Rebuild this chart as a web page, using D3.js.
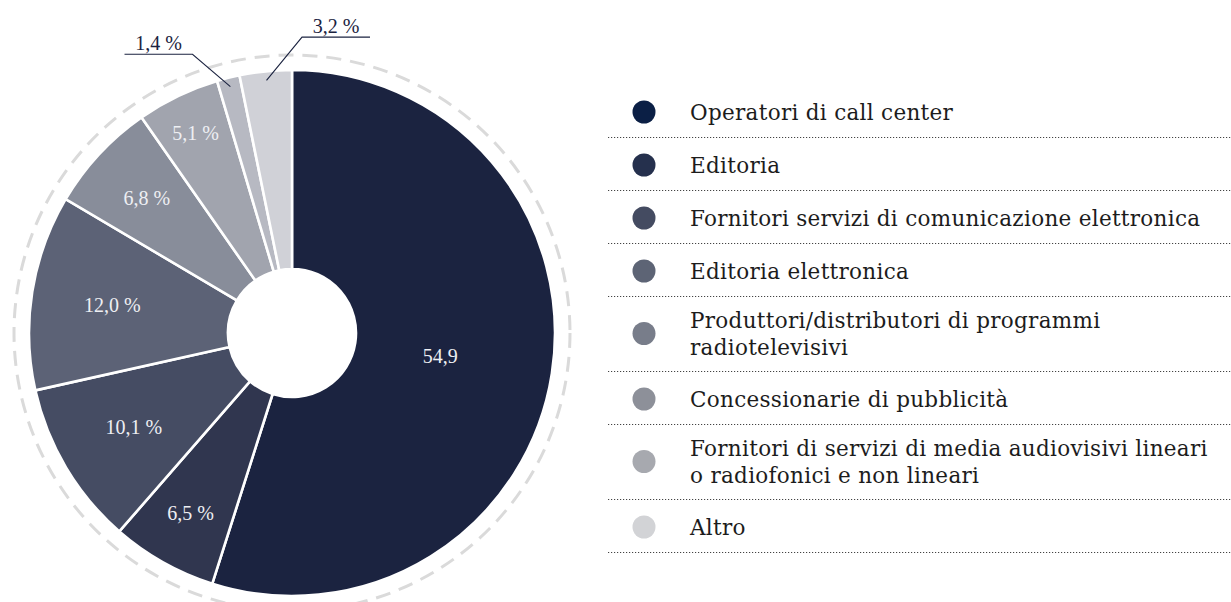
<!DOCTYPE html>
<html lang="it">
<head>
<meta charset="utf-8">
<script src="https://cdn.jsdelivr.net/npm/d3@7"></script>
<style>
  html, body { margin: 0; padding: 0; background: #ffffff; }
  svg { display: block; }
  text { font-family: "Liberation Serif", "Times New Roman", serif; }
  .legend text { font-family: "DejaVu Serif", serif; }
</style>
</head>
<body>
<svg id="chart" width="1231" height="602"></svg>
<script>
// Sector categories (legend lines are pre-split where the label wraps)
const categories = [
  ["Operatori di call center"],
  ["Editoria"],
  ["Fornitori servizi di comunicazione elettronica"],
  ["Editoria elettronica"],
  ["Produttori/distributori di programmi", "radiotelevisivi"],
  ["Concessionarie di pubblicità"],
  ["Fornitori di servizi di media audiovisivi lineari", "o radiofonici e non lineari"],
  ["Altro"]
];
// Share of each sector (%)
const shares = [54.9, 6.5, 10.1, 12.0, 6.8, 5.1, 1.4, 3.2];
// Labels printed on / next to the slices
const valueLabels = ["54,9", "6,5 %", "10,1 %", "12,0 %", "6,8 %", "5,1 %", "1,4 %", "3,2 %"];

// Palettes for slices and legend markers
const sliceColors = ["#1b2340", "#30364f", "#454c63", "#5c6276", "#888d9a", "#a1a4ae", "#b7b9c2", "#d0d1d7"];
const legendColors = ["#0b1f45", "#25304d", "#444b61", "#5d6475", "#787d8a", "#8d9099", "#a7a9af", "#d2d3d6"];

const svg = d3.select("#chart");

// ---- Donut ----
const cx = 292, cy = 333;
const outerR = 263, innerR = 64, ringR = 278;

const pie = d3.pie().sort(null).value(d => d)
  .startAngle(0).endAngle(2 * Math.PI);
const arcs = pie(shares);

const arc = d3.arc().innerRadius(innerR).outerRadius(outerR);

const g = svg.append("g").attr("transform", `translate(${cx},${cy})`);

// dashed ring around the donut
g.append("circle")
  .attr("r", ringR)
  .attr("fill", "none")
  .attr("stroke", "#dadada")
  .attr("stroke-width", 3)
  .attr("stroke-dasharray", "15 9");

g.selectAll("path.slice")
  .data(arcs)
  .join("path")
  .attr("class", "slice")
  .attr("d", arc)
  .attr("fill", (d, i) => sliceColors[i])
  .attr("stroke", "#ffffff")
  .attr("stroke-width", 2.6)
  .attr("stroke-linejoin", "miter");

const polar = (r, a) => [r * Math.sin(a), -r * Math.cos(a)];
const midAngle = d => (d.startAngle + d.endAngle) / 2;

// distance of each inside label from the centre
const labelRadius = [150, 207, 184, 182, 198, 222];

const inside = arcs.map((d, i) => ({ d, i })).filter(o => shares[o.i] >= 5);
g.selectAll("text.inlabel")
  .data(inside)
  .join("text")
  .attr("class", "inlabel")
  .attr("x", o => polar(labelRadius[o.i], midAngle(o.d))[0])
  .attr("y", o => polar(labelRadius[o.i], midAngle(o.d))[1])
  .attr("dy", "0.35em")
  .attr("text-anchor", "middle")
  .attr("fill", "#eeeff3")
  .attr("font-size", 20)
  .text(o => valueLabels[o.i]);

// callouts for the thin slices
const spreadDeg = { 6: -5.6, 7: 7.7 };
const outside = arcs.map((d, i) => ({ d, i })).filter(o => shares[o.i] < 5);
outside.forEach(o => {
  const a = midAngle(o.d);
  const p0 = polar(254, a);
  const p1 = polar(296, a + spreadDeg[o.i] * Math.PI / 180);
  const dir = spreadDeg[o.i] < 0 ? -1 : 1;
  const p2 = [p1[0] + dir * 68, p1[1]];
  g.append("polyline")
    .attr("points", [p0, p1, p2].map(p => p.join(",")).join(" "))
    .attr("fill", "none")
    .attr("stroke", "#1b2340")
    .attr("stroke-width", 1.1);
  g.append("text")
    .attr("x", (p1[0] + p2[0]) / 2)
    .attr("y", p1[1] - 4)
    .attr("text-anchor", "middle")
    .attr("fill", "#1b2340")
    .attr("font-size", 20)
    .text(valueLabels[o.i]);
});

// ---- Legend ----
const legendX0 = 608, legendX1 = 1231;
const dotX = 644, textX = 690;
const rowH = 53, wrapExtra = 22, lineH = 27;
let rowTop = 84;

const legend = svg.append("g").attr("class", "legend");
categories.forEach((lines, i) => {
  const h = rowH + (lines.length - 1) * wrapExtra;
  const firstY = rowTop + (lines.length > 1 ? 24 : 28);
  const midY = firstY + (lines.length - 1) * lineH / 2;
  legend.append("circle")
    .attr("cx", dotX).attr("cy", midY).attr("r", 11.5)
    .attr("fill", legendColors[i]);
  lines.forEach((t, k) => {
    legend.append("text")
      .attr("x", textX)
      .attr("y", firstY + k * lineH)
      .attr("dy", "0.35em")
      .attr("fill", "#1c1c1c")
      .attr("font-size", 21.5)
      .attr("letter-spacing", 0.3)
      .text(t);
  });
  rowTop += h;
  legend.append("line")
    .attr("x1", legendX0).attr("x2", legendX1)
    .attr("y1", rowTop + 0.5).attr("y2", rowTop + 0.5)
    .attr("stroke", "#444")
    .attr("stroke-width", 1)
    .attr("stroke-dasharray", "1.2 1.8");
});
</script>
</body>
</html>
